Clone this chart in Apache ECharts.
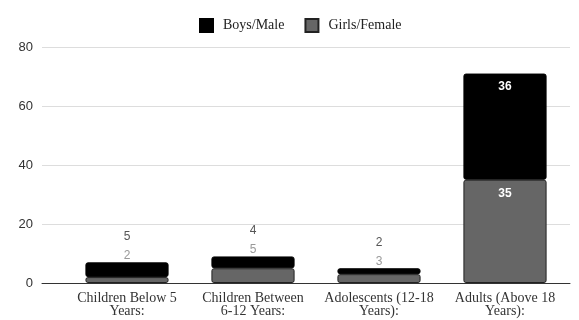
<!DOCTYPE html>
<html><head><meta charset="utf-8">
<script src="https://cdn.jsdelivr.net/npm/echarts@6/dist/echarts.min.js"></script>
<style>html,body{margin:0;padding:0;background:#fff}#c{width:579px;height:320px}</style>
</head><body><div id="c"></div>
<script>
const categories = ["Children Below 5\nYears:", "Children Between\n6-12 Years:", "Adolescents (12-18\nYears):", "Adults (Above 18\nYears):"];
const boys = [5, 4, 2, 36];
const girls = [2, 5, 3, 35];
const yMax = 80;
const yStep = 20;

const insideThreshold = 20;
const sans = "Liberation Sans, Arial, sans-serif";
const serif = "Times New Roman, Liberation Serif, DejaVu Serif, serif";

const chart = echarts.init(document.getElementById('c'), null, {renderer: 'canvas'});

const boysData = boys.map((v, i) => {
  const big = v >= insideThreshold;
  return {
    value: v,
    label: big ? {
      show: true, position: 'insideTop', distance: 7, color: '#fff', fontSize: 12, fontWeight: 'bold', fontFamily: sans,
      formatter: String(v)
    } : {
      show: true, position: 'top', distance: -3,
      formatter: '{b|' + v + '}\n{g|' + girls[i] + '}',
      rich: {
        b: {color: '#555', fontSize: 12, fontFamily: sans, lineHeight: 19},
        g: {color: '#999', fontSize: 12, fontFamily: sans, lineHeight: 19}
      }
    }
  };
});
const girlsData = girls.map((v, i) => {
  const big = boys[i] >= insideThreshold;
  return {
    value: v,
    label: big ? {
      show: true, position: 'insideTop', distance: 8, color: '#fff', fontSize: 12, fontWeight: 'bold', fontFamily: sans,
      formatter: String(v)
    } : {show: false}
  };
});

chart.setOption({
  animation: false,
  legend: {
    data: ['Boys/Male', 'Girls/Female'],
    left: 194, top: 13,
    icon: 'rect', itemWidth: 13, itemHeight: 13, itemGap: 20,
    textStyle: {fontFamily: serif, fontSize: 14, color: '#222', padding: [0, 0, 0, 5]}
  },
  grid: [
    {left: 42, right: 9, top: 47, bottom: 37},
    {left: 64, right: 11, top: 47, bottom: 37}
  ],
  xAxis: [
    {gridIndex: 0, type: 'category', data: [''], axisLine: {show: true, lineStyle: {color: '#333', width: 1}},
     axisTick: {show: false}, axisLabel: {show: false}},
    {gridIndex: 1, type: 'category', data: categories, axisLine: {show: false}, axisTick: {show: false},
     axisLabel: {interval: 0, margin: 9, color: '#333', fontFamily: serif, fontSize: 14, lineHeight: 13}}
  ],
  yAxis: [
    {gridIndex: 0, type: 'value', min: 0, max: yMax, interval: yStep,
     splitLine: {lineStyle: {color: '#ddd', width: 1}},
     axisLine: {show: false}, axisTick: {show: false},
     axisLabel: {margin: 9, color: '#333', fontFamily: sans, fontSize: 13}},
    {gridIndex: 1, type: 'value', min: 0, max: yMax, interval: yStep, show: false, splitLine: {show: false}}
  ],
  series: [
    {name: 'Girls/Female', type: 'bar', stack: 's', xAxisIndex: 1, yAxisIndex: 1, barWidth: '66%',
     itemStyle: {color: '#666666', borderColor: '#222', borderWidth: 1, borderRadius: 2},
     data: girlsData},
    {name: 'Boys/Male', type: 'bar', stack: 's', xAxisIndex: 1, yAxisIndex: 1, barWidth: '66%',
     itemStyle: {color: '#000000', borderColor: '#000', borderWidth: 1, borderRadius: 2},
     data: boysData}
  ]
});
</script></body></html>
